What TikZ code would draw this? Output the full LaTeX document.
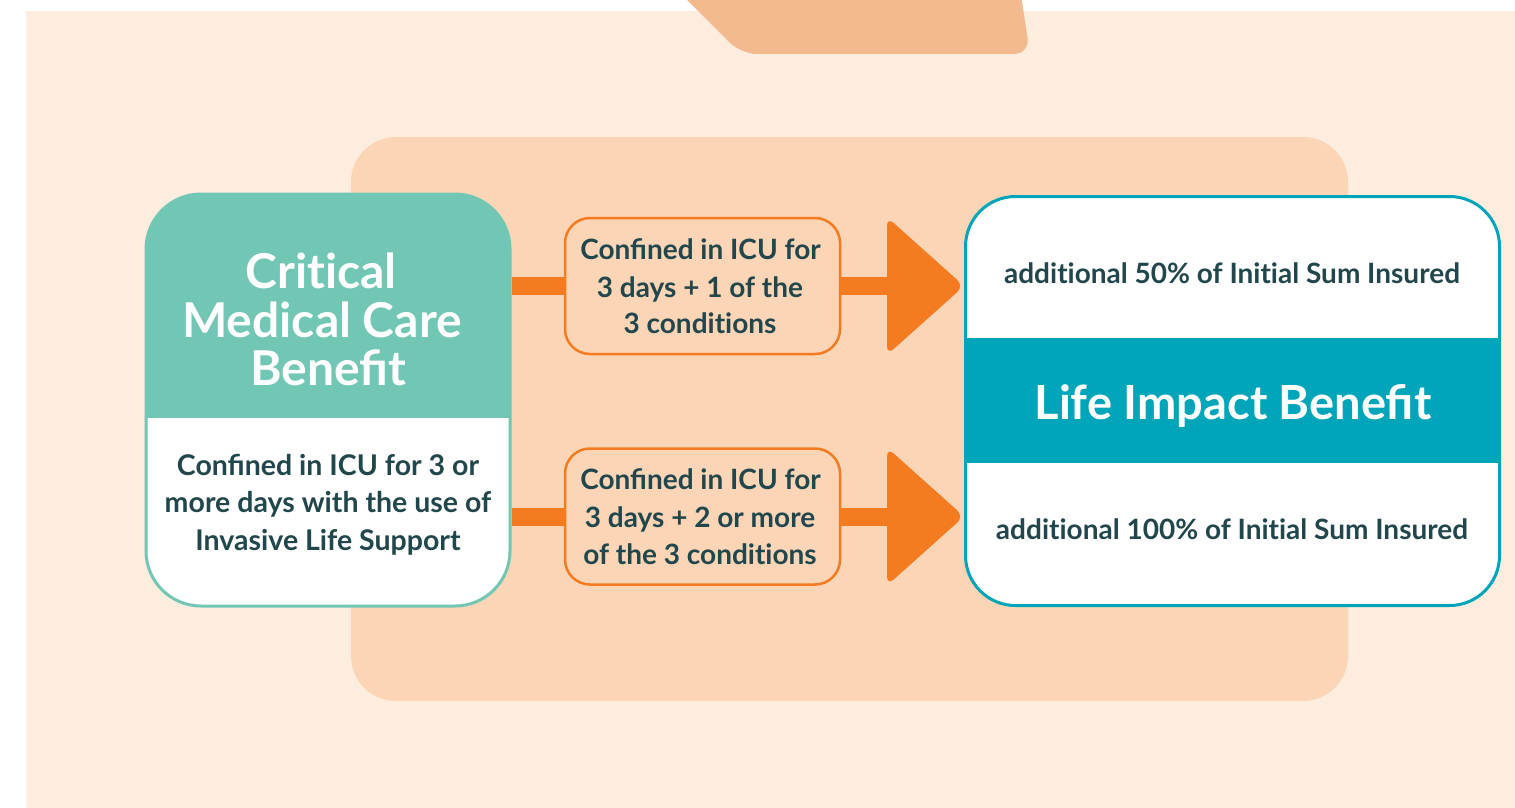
\documentclass[tikz,border=0pt]{standalone}
\usepackage{fontspec}
\setmainfont{Lato}[RawFeature=-liga]
\usetikzlibrary{calc}
\definecolor{pagebg}{HTML}{FDEDDF}
\definecolor{panel}{HTML}{FBD5B5}
\definecolor{tabc}{HTML}{F3BA8F}
\definecolor{flow}{HTML}{F47B20}
\definecolor{mint}{HTML}{71C7B4}
\definecolor{lagoon}{HTML}{00A5BA}
\definecolor{ink}{HTML}{21474C}
\begin{document}
\begin{tikzpicture}[x=1pt,y=-1pt,
  txt/.style={anchor=base, inner sep=0pt, text=ink, font=\fontsize{#1}{#1}\selectfont\bfseries},
  head/.style={anchor=base, inner sep=0pt, text=white, font=\fontsize{#1}{#1}\selectfont\bfseries},
  condbox/.style={draw=flow, line width=2.5pt, rounded corners=25pt, minimum width=275pt, minimum height=136pt, inner sep=0pt},
  bar/.style={draw=flow, line width=18pt},
  tiphead/.style={fill=flow, rounded corners=9pt}]
\useasboundingbox (0,0) rectangle (1515,808);
\clip (0,0) rectangle (1515,808);
% page and backdrop panels
\fill[white] (0,0) rectangle (1515,808);
\fill[pagebg] (26,11) rectangle (1515,808);
\fill[tabc, rounded corners=16pt] (656,-31) -- (741,54) -- (1030,54) -- (1017,-31) -- cycle;
\fill[panel, rounded corners=45pt] (351,137) rectangle (1348,701);

% left benefit card
\node[draw=mint, line width=3pt, rounded corners=55pt, fill=white,
  minimum width=364pt, minimum height=412pt, inner sep=0pt,
  path picture={\fill[mint, sharp corners] ($(path picture bounding box.north west)+(-5,-5)$) rectangle ($(path picture bounding box.north east)+(5,224)$);}]
  (crit) at (328,400) {};
\node[head=48pt] (crit1) at (321,288) {Critical};
\node[head=48pt] (crit2) at (322,337) {Medical Care};
\node[head=48pt] (crit3) at (328,385) {Bene\char"FB01t};
\node[txt=28.5pt] (critd1) at (328,475) {Con\char"FB01ned in ICU for 3 or};
\node[txt=28.5pt] (critd2) at (328,512) {more days with the use of};
\node[txt=28.5pt] (critd3) at (328,550) {Invasive Life Support};

% right benefit card
\node[draw=lagoon, line width=3pt, rounded corners=50pt, fill=white,
  minimum width=534pt, minimum height=409pt, inner sep=0pt,
  path picture={\fill[lagoon, sharp corners] ($(path picture bounding box.north west)+(-5,141)$) rectangle ($(path picture bounding box.north east)+(5,266)$);}]
  (lib) at (1232.5,401) {};
\node[txt=28pt] (lib1) at (1232,283) {additional 50\% of Initial Sum Insured};
\node[head=47pt] (lib2) at (1233,419) {Life Impact Bene\char"FB01t};
\node[txt=28pt] (lib3) at (1232,539) {additional 100\% of Initial Sum Insured};

% condition boxes
\node[condbox] (c1) at (702.5,286) {};
\node[txt=28pt] (c1a) at (700.5,259) {Con\char"FB01ned in ICU for};
\node[txt=28pt] (c1b) at (700,297) {3 days + 1 of the};
\node[txt=28pt] (c1c) at (700,333) {3 conditions};
\node[condbox] (c2) at (702.5,516.5) {};
\node[txt=28pt] (c2a) at (700.5,489) {Con\char"FB01ned in ICU for};
\node[txt=28pt] (c2b) at (700,527) {3 days + 2 or more};
\node[txt=28pt] (c2c) at (700,564) {of the 3 conditions};

% connectors
\coordinate (t1) at (lib.west |- c1);
\coordinate (t2) at (lib.west |- c2);
\draw[bar] (crit.east |- c1) -- (c1.west);
\draw[bar] (c1.east) -- ($(t1)+(-70,0)$);
\fill[tiphead] ($(t1)+(-77,-69)$) -- (t1) -- ($(t1)+(-77,69)$) -- cycle;
\draw[bar] (crit.east |- c2) -- (c2.west);
\draw[bar] (c2.east) -- ($(t2)+(-70,0)$);
\fill[tiphead] ($(t2)+(-77,-69)$) -- (t2) -- ($(t2)+(-77,69)$) -- cycle;
\end{tikzpicture}
\end{document}
